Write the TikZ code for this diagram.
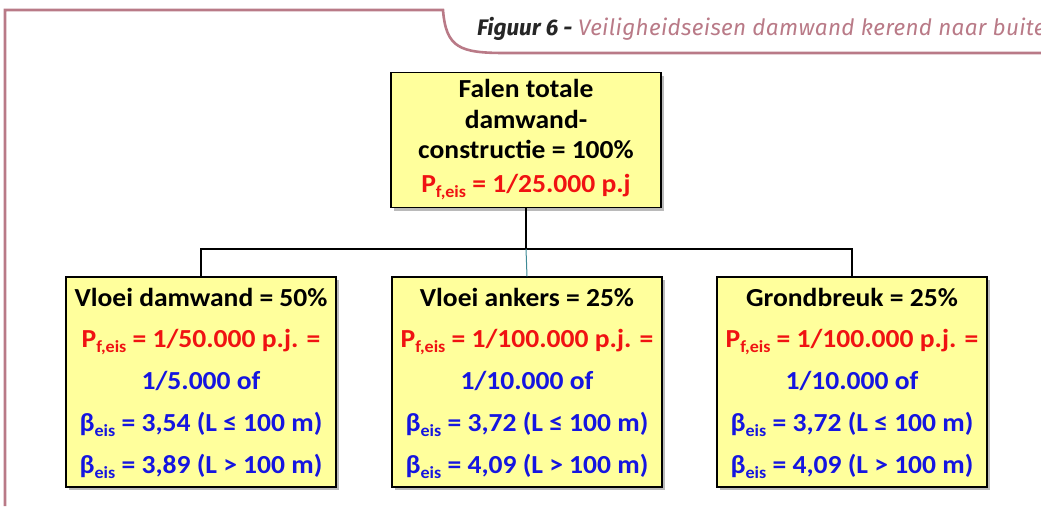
\documentclass[tikz,border=0pt]{standalone}
\usepackage{fontspec}
\setmainfont{Carlito}[FakeStretch=1.06]
\newfontfamily\captionfont{Fira Sans}
\newfontfamily\captionwide{Fira Sans}[LetterSpace=1.5]
\usetikzlibrary{shadows}
\definecolor{framepink}{HTML}{B97A87}
\definecolor{boxyellow}{HTML}{FFFF9C}
\definecolor{pred}{HTML}{F01212}
\definecolor{bblue}{HTML}{1515E0}
\definecolor{linkteal}{HTML}{3E8A96}
% probability and reliability symbols with lowered indices
\newcommand\Pfeis{P\raisebox{-5pt}{\fontsize{17}{17}\selectfont f,eis}}
\newcommand\Beis{β\raisebox{-5pt}{\fontsize{17}{17}\selectfont eis}}
\begin{document}
\begin{tikzpicture}[x=1pt,y=-1pt,
  fbox/.style={draw=black, line width=1.4pt, fill=boxyellow, minimum width=270pt,
    inner sep=0pt, drop shadow={shadow xshift=3pt, shadow yshift=-3pt, opacity=0.45, fill=black!60}},
  tline/.style={anchor=base, inner sep=0pt, font=\fontsize{26}{26}\selectfont\bfseries},
  link/.style={line width=1.3pt}]
\useasboundingbox (0,0) rectangle (1041,506);

% page frame with caption tab
\draw[framepink, line width=2.6pt] (5,506) -- (5,10) -- (443,10)
  .. controls (446,48) and (460,53) .. (505,53) -- (1045,53);
\node[anchor=base west, inner sep=0pt, font=\captionfont\fontsize{22.5}{22.5}\selectfont\itshape]
  (caption) at (477,35) {\textbf{\textcolor{black!85}{Figuur 6 -}} {\captionwide\itshape\textcolor{framepink}{Veiligheidseisen damwand kerend naar buiten}}};

% boxes
\node[fbox, minimum height=135pt] (top) at (526,140) {};
\node[fbox, minimum height=210pt] (left) at (201,382) {};
\node[fbox, minimum height=210pt] (mid) at (527,382) {};
\node[fbox, minimum height=210pt] (right) at (852,382) {};

% connectors
\coordinate (j) at (526,249);
\draw[link] (top.south) -- (j);
\draw[link] (j) -| (left.north);
\draw[link] (j) -| (right.north);
\draw[link, linkteal, line width=1pt] (j) -- (mid.north);

% top box text
\node[tline] (t1) at (526,97) {Falen totale};
\node[tline] (t2) at (526,128) {damwand-};
\node[tline] (t3) at (526,158) {constructie = 100\%};
\node[tline, text=pred] (t4) at (526,192) {\Pfeis{} = 1/25.000 p.j};

% left box text
\node[tline] (l1) at (201,306) {Vloei damwand = 50\%};
\node[tline, text=pred] (l2) at (201,347) {\Pfeis{} = 1/50.000 p.j. =};
\node[tline, text=bblue] (l3) at (201,389) {1/5.000 of};
\node[tline, text=bblue] (l4) at (201,431) {\Beis{} = 3,54 (L ≤ 100 m)};
\node[tline, text=bblue] (l5) at (201,473) {\Beis{} = 3,89 (L > 100 m)};

% middle box text
\node[tline] (m1) at (527,306) {Vloei ankers = 25\%};
\node[tline, text=pred] (m2) at (527,347) {\Pfeis{} = 1/100.000 p.j. =};
\node[tline, text=bblue] (m3) at (527,389) {1/10.000 of};
\node[tline, text=bblue] (m4) at (527,431) {\Beis{} = 3,72 (L ≤ 100 m)};
\node[tline, text=bblue] (m5) at (527,473) {\Beis{} = 4,09 (L > 100 m)};

% right box text
\node[tline] (r1) at (852,306) {Grondbreuk = 25\%};
\node[tline, text=pred] (r2) at (852,347) {\Pfeis{} = 1/100.000 p.j. =};
\node[tline, text=bblue] (r3) at (852,389) {1/10.000 of};
\node[tline, text=bblue] (r4) at (852,431) {\Beis{} = 3,72 (L ≤ 100 m)};
\node[tline, text=bblue] (r5) at (852,473) {\Beis{} = 4,09 (L > 100 m)};
\end{tikzpicture}
\end{document}
